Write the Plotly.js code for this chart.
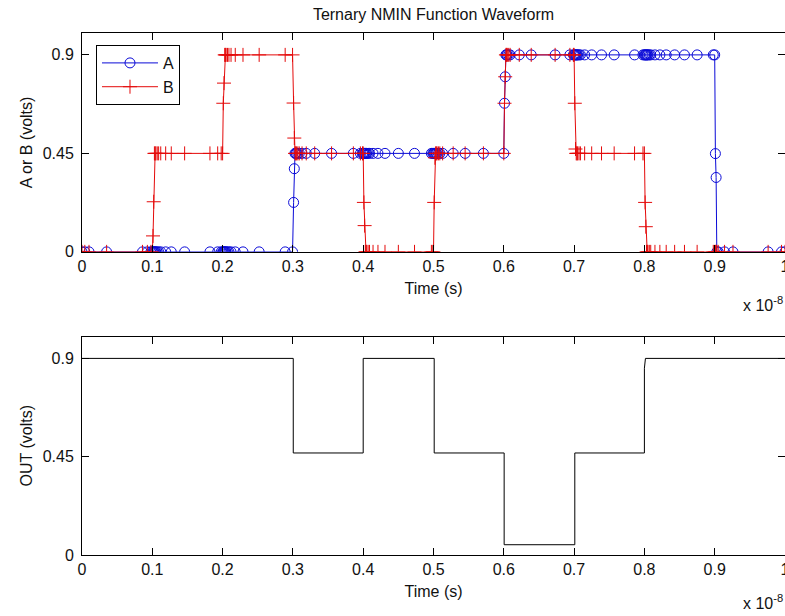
<!DOCTYPE html>
<html>
<head>
<meta charset="utf-8">
<script src="https://cdn.plot.ly/plotly-3.0.1.min.js"></script>
<style>
html,body{margin:0;padding:0;overflow:hidden;background:#fff;}
#chart{width:800px;height:616px;}
</style>
</head>
<body>
<div id="chart"></div>
<script>
// Time in units of 1e-8 s (axis shows "x 10^-8")
var time = [0, 0.004, 0.01, 0.035,
  0.086, 0.093, 0.098, 0.1, 0.101, 0.102, 0.103, 0.104, 0.105, 0.107, 0.109, 0.112, 0.119, 0.127, 0.146, 0.182, 0.193,
  0.198, 0.2, 0.201, 0.202, 0.203, 0.204, 0.205, 0.207, 0.209, 0.212, 0.218, 0.229, 0.252, 0.289,
  0.2995, 0.301, 0.302, 0.303, 0.304, 0.305, 0.307, 0.309, 0.313, 0.319, 0.331, 0.355, 0.386,
  0.396, 0.399, 0.4, 0.401, 0.402, 0.403, 0.404, 0.405, 0.407, 0.409, 0.414, 0.421, 0.431, 0.45, 0.473,
  0.497, 0.499, 0.5, 0.501, 0.502, 0.503, 0.504, 0.505, 0.507, 0.509, 0.513, 0.528, 0.545, 0.571,
  0.6, 0.601, 0.602, 0.603, 0.604, 0.605, 0.607, 0.609, 0.622, 0.639, 0.673,
  0.694, 0.699, 0.7, 0.701, 0.702, 0.703, 0.704, 0.705, 0.707, 0.709, 0.715, 0.725, 0.739, 0.757, 0.786, 0.798,
  0.8, 0.801, 0.802, 0.803, 0.804, 0.805, 0.807, 0.809, 0.815, 0.822, 0.831, 0.843, 0.857, 0.875,
  0.898, 0.9, 0.901, 0.902, 0.903, 0.905, 0.914, 0.926, 0.976, 0.995, 1.0];

var voltsA = [0, 0, 0, 0,
  0, 0, 0, 0, 0, 0, 0, 0, 0, 0, 0, 0, 0, 0, 0, 0, 0,
  0, 0, 0, 0, 0, 0, 0, 0, 0, 0, 0, 0, 0, 0,
  0, 0.226, 0.38, 0.45, 0.45, 0.45, 0.45, 0.45, 0.45, 0.45, 0.45, 0.45, 0.45,
  0.45, 0.45, 0.45, 0.45, 0.45, 0.45, 0.45, 0.45, 0.45, 0.45, 0.45, 0.45, 0.45, 0.45, 0.45,
  0.45, 0.45, 0.45, 0.45, 0.45, 0.45, 0.45, 0.45, 0.45, 0.45, 0.45, 0.45, 0.45, 0.45,
  0.45, 0.679, 0.8, 0.9, 0.9, 0.9, 0.9, 0.9, 0.9, 0.9, 0.9,
  0.9, 0.9, 0.9, 0.9, 0.9, 0.9, 0.9, 0.9, 0.9, 0.9, 0.9, 0.9, 0.9, 0.9, 0.9, 0.9,
  0.9, 0.9, 0.9, 0.9, 0.9, 0.9, 0.9, 0.9, 0.9, 0.9, 0.9, 0.9, 0.9, 0.9,
  0.9, 0.9, 0.449, 0.34, 0, 0, 0, 0, 0, 0, 0];

var voltsB = [0, 0, 0, 0,
  0, 0, 0, 0, 0.073, 0.229, 0.45, 0.45, 0.45, 0.45, 0.45, 0.45, 0.45, 0.45, 0.45, 0.45, 0.45,
  0.45, 0.45, 0.679, 0.771, 0.9, 0.9, 0.9, 0.9, 0.9, 0.9, 0.9, 0.9, 0.9, 0.9,
  0.9, 0.68, 0.52, 0.45, 0.45, 0.45, 0.45, 0.45, 0.45, 0.45, 0.45, 0.45, 0.45,
  0.45, 0.45, 0.45, 0.226, 0.12, 0, 0, 0, 0, 0, 0, 0, 0, 0, 0,
  0, 0, 0, 0.226, 0.43, 0.45, 0.45, 0.45, 0.45, 0.45, 0.45, 0.45, 0.45, 0.45,
  0.45, 0.679, 0.8, 0.9, 0.9, 0.9, 0.9, 0.9, 0.9, 0.9, 0.9,
  0.9, 0.9, 0.9, 0.679, 0.47, 0.45, 0.45, 0.45, 0.45, 0.45, 0.45, 0.45, 0.45, 0.45, 0.45, 0.45,
  0.45, 0.226, 0.115, 0, 0, 0, 0, 0, 0, 0, 0, 0, 0, 0,
  0, 0, 0, 0, 0, 0, 0, 0, 0, 0, 0];

var outTime  = [0,   0.3005, 0.3005, 0.4,   0.4, 0.501, 0.501, 0.6005, 0.6005, 0.701, 0.701, 0.8,   0.8,   0.8015, 1.0];
var outVolts = [0.9, 0.9,    0.467,  0.467, 0.9, 0.9,   0.467, 0.467,  0.047,  0.047, 0.467, 0.467, 0.855, 0.9,    0.9];

var xTickVals = [0, 0.1, 0.2, 0.3, 0.4, 0.5, 0.6, 0.7, 0.8, 0.9, 1];
var xTickText = ['0', '0.1', '0.2', '0.3', '0.4', '0.5', '0.6', '0.7', '0.8', '0.9', '1'];
var yTickVals = [0, 0.45, 0.9];
var yTickText = ['0', '0.45', '0.9'];

var FONT = '"Liberation Sans", Arial, Helvetica, sans-serif';
var BLUE = 'rgb(10,10,215)';
var RED = 'rgb(228,10,10)';
var TXT = '#111';

var traces = [
  {x: time, y: voltsA, name: 'A', type: 'scatter', mode: 'lines+markers',
   xaxis: 'x', yaxis: 'y',
   line: {color: BLUE, width: 1},
   marker: {symbol: 'circle-open', size: 10, color: BLUE, line: {width: 1, color: BLUE}}},
  {x: time, y: voltsB, name: 'B', type: 'scatter', mode: 'lines+markers',
   xaxis: 'x', yaxis: 'y',
   line: {color: RED, width: 1},
   marker: {symbol: 'cross-thin-open', size: 10, color: RED, line: {width: 1, color: RED}}},
  {x: outTime, y: outVolts, name: 'OUT', type: 'scatter', mode: 'lines',
   xaxis: 'x2', yaxis: 'y2', showlegend: false,
   line: {color: '#000', width: 1}}
];

function xAxis(anchor) {
  return {
    anchor: anchor, range: [0, 1], tickvals: xTickVals, ticktext: xTickText,
    ticks: 'inside', ticklen: 7, tickcolor: '#000', tickwidth: 1,
    showline: true, linecolor: '#000', linewidth: 1, mirror: 'ticks',
    showgrid: false, zeroline: false, fixedrange: true,
    tickfont: {family: FONT, size: 16, color: TXT},
    title: {text: 'Time (s)', standoff: 8, font: {family: FONT, size: 16, color: TXT}}
  };
}
function yAxis(anchor, domain, title) {
  return {
    anchor: anchor, domain: domain, range: [0, 1], tickvals: yTickVals, ticktext: yTickText,
    ticks: 'inside', ticklen: 7, tickcolor: '#000', tickwidth: 1,
    showline: true, linecolor: '#000', linewidth: 1, mirror: 'ticks',
    showgrid: false, zeroline: false, fixedrange: true, ticklabelstandoff: 4,
    tickfont: {family: FONT, size: 16, color: TXT},
    title: {text: title, standoff: 6, font: {family: FONT, size: 16, color: TXT}}
  };
}

var layout = {
  width: 800, height: 616,
  margin: {l: 82, r: 14.6, t: 33, b: 60.7},
  paper_bgcolor: '#fff', plot_bgcolor: '#fff',
  font: {family: FONT, size: 16, color: TXT},
  title: {text: 'Ternary NMIN Function Waveform', font: {family: FONT, size: 16, color: TXT},
          x: 0.5, xref: 'paper', y: 1 - 14 / 616, yref: 'container', yanchor: 'middle'},
  xaxis: xAxis('y'),
  yaxis: yAxis('x', [0.5807, 1], 'A or B (volts)'),
  xaxis2: xAxis('y2'),
  yaxis2: yAxis('x2', [0, 0.4185], 'OUT (volts)'),
  showlegend: true,
  legend: {x: 0.0199, y: 0.977, xanchor: 'left', yanchor: 'top',
           bgcolor: '#fff', bordercolor: '#000', borderwidth: 1,
           font: {family: FONT, size: 16, color: TXT}, itemwidth: 56},
  annotations: [
    {text: 'x 10<sup>-8</sup>', xref: 'paper', yref: 'paper', x: 0.938, y: 1 - (304 - 33) / 522.3,
     xanchor: 'left', yanchor: 'middle', showarrow: false, font: {family: FONT, size: 16, color: TXT}},
    {text: 'x 10<sup>-8</sup>', xref: 'paper', yref: 'paper', x: 0.938, y: 1 - (602 - 33) / 522.3,
     xanchor: 'left', yanchor: 'middle', showarrow: false, font: {family: FONT, size: 16, color: TXT}}
  ]
};

Plotly.newPlot('chart', traces, layout, {displayModeBar: false, staticPlot: true});
</script>
</body>
</html>
